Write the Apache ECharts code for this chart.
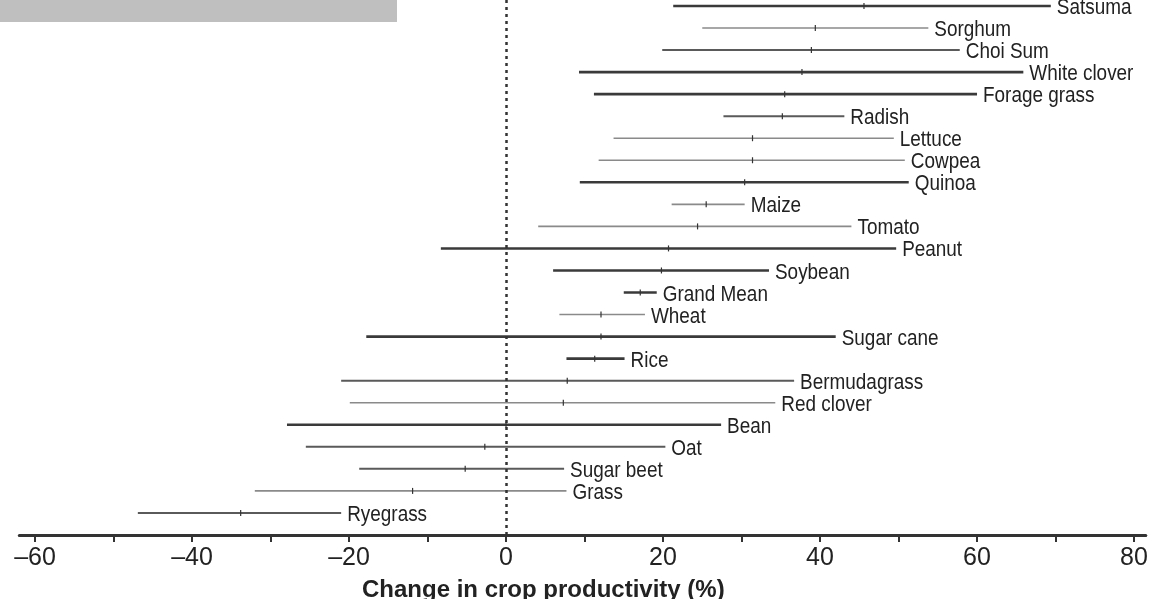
<!DOCTYPE html>
<html>
<head>
<meta charset="utf-8">
<script src="https://cdn.jsdelivr.net/npm/echarts@6/dist/echarts.min.js"></script>
<style>
  html, body { margin: 0; padding: 0; background: #fff; }
  #chart { width: 1162px; height: 599px; }
</style>
</head>
<body>
<div id="chart"></div>
<script>
// crops, bottom row first
const crops = ["Ryegrass", "Grass", "Sugar beet", "Oat", "Bean", "Red clover", "Bermudagrass",
    "Rice", "Sugar cane", "Wheat", "Grand Mean", "Soybean", "Peanut", "Tomato", "Maize",
    "Quinoa", "Cowpea", "Lettuce", "Radish", "Forage grass", "White clover", "Choi Sum",
    "Sorghum", "Satsuma"];

// lower bound, mean, upper bound (%)
const lower = [-46.9, -32.0, -18.7, -25.5, -27.9, -19.9, -21.0,
    7.7, -17.8, 6.8, 15.0, 6.0, -8.3, 4.1, 21.1,
    9.4, 11.8, 13.7, 27.7, 11.2, 9.3, 19.9,
    25.0, 21.3];
const mean = [-33.8, -11.9, -5.2, -2.7, 0.0, 7.3, 7.8,
    11.3, 12.1, 12.1, 17.1, 19.8, 20.7, 24.4, 25.5,
    30.4, 31.4, 31.4, 35.2, 35.5, 37.7, 38.9,
    39.4, 45.6];
const upper = [-21.0, 7.7, 7.4, 20.3, 27.4, 34.3, 36.7,
    15.1, 42.0, 17.7, 19.2, 33.5, 49.7, 44.0, 30.4,
    51.3, 50.8, 49.4, 43.1, 60.0, 65.9, 57.8,
    53.8, 69.4];
// line weight class in the original (3 = heavy, 1 = light)
const weight = [2, 1, 2, 2, 3, 1, 2,
    3, 3, 1, 3, 3, 3, 1, 1,
    3, 1, 1, 2, 3, 3, 2,
    1, 3];

const xTicks = [-60, -50, -40, -30, -20, -10, 0, 10, 20, 30, 40, 50, 60, 70, 80];
const xLabels = [-60, -40, -20, 0, 20, 40, 60, 80];

const FONT = "'Liberation Sans', Arial, sans-serif";

const STYLE = {
    3: { width: 2.6, color: "#3a3a3a" },
    2: { width: 2.0, color: "#5a5a5a" },
    1: { width: 1.6, color: "#8a8a8a" }
};

const rows = crops.map(function (name, i) {
    return [i, lower[i], mean[i], upper[i], weight[i], name];
});

function renderRow(params, api) {
    const y = api.value(0);
    const lo = api.coord([api.value(1), y]);
    const mid = api.coord([api.value(2), y]);
    const hi = api.coord([api.value(3), y]);
    const st = STYLE[api.value(4)];
    return {
        type: "group",
        children: [
            {
                type: "line",
                shape: { x1: lo[0], y1: lo[1], x2: hi[0], y2: hi[1] },
                style: { stroke: st.color, lineWidth: st.width }
            },
            {
                type: "line",
                shape: { x1: mid[0], y1: mid[1] - 3, x2: mid[0], y2: mid[1] + 3 },
                style: { stroke: "#333", lineWidth: 1.2 }
            },
            {
                // condensed look of the original typeface
                type: "text",
                x: hi[0] + 6,
                y: hi[1] + 2,
                scaleX: 0.86,
                style: {
                    text: crops[params.dataIndex],
                    fill: "#222",
                    font: "22px " + FONT,
                    verticalAlign: "middle",
                    align: "left"
                }
            }
        ]
    };
}

const myChart = echarts.init(document.getElementById("chart"));

const option = {
    animation: false,
    backgroundColor: "#fff",
    grid: { left: 19.3, right: 16.2, top: 0, bottom: 64 },
    xAxis: {
        type: "value",
        min: -62,
        max: 81.5,
        splitLine: { show: false },
        axisLine: { show: true, onZero: false, lineStyle: { color: "#333", width: 3 } },
        axisTick: { show: true, length: 7, customValues: xTicks, lineStyle: { color: "#333", width: 2 } },
        axisLabel: {
            customValues: xLabels,
            margin: 11,
            color: "#222",
            fontSize: 25,
            fontFamily: FONT,
            formatter: function (v) {
                return String(v).replace("-", "\u2013");
            }
        }
    },
    yAxis: {
        type: "value",
        min: -1,
        max: 23.27,
        show: false
    },
    graphic: [
        {
            type: "rect",
            left: 0,
            top: 0,
            shape: { width: 397, height: 22 },
            style: { fill: "#bfbfbf" },
            z: 10
        },
        {
            type: "text",
            left: 362,
            top: 578,
            style: {
                text: "Change in crop productivity (%)",
                fill: "#222",
                font: "bold 24px " + FONT
            }
        }
    ],
    series: [
        {
            type: "custom",
            renderItem: renderRow,
            encode: { x: [1, 2, 3], y: 0 },
            data: rows,
            silent: true,
            markLine: {
                silent: true,
                symbol: "none",
                label: { show: false },
                lineStyle: { type: [3, 4], color: "#333", width: 2.5 },
                data: [{ xAxis: 0 }]
            }
        }
    ]
};

myChart.setOption(option, true);
</script>
</body>
</html>
